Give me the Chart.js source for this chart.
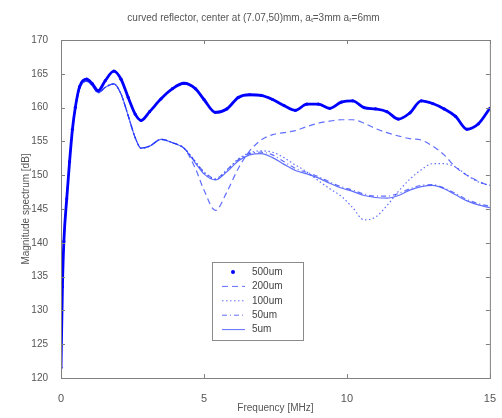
<!DOCTYPE html>
<html>
<head>
<meta charset="utf-8">
<script src="https://cdn.jsdelivr.net/npm/chart.js@4.4.1/dist/chart.umd.min.js"></script>
<style>
  html, body { margin: 0; padding: 0; background: #fff; }
  #wrap { width: 502px; height: 418px; }
</style>
</head>
<body>
<div id="wrap"><canvas id="spec" width="502" height="418"></canvas></div>
<script>
// frequency grid [MHz]
const freq = [0, 0.05, 0.1, 0.2, 0.3, 0.4, 0.5, 0.65, 0.9, 1.1, 1.3, 1.55, 1.85, 2.1, 2.35, 2.6, 2.8, 3.1, 3.5, 3.9,
  4.3, 4.7, 5.0, 5.4, 5.8, 6.2, 6.6, 7.0, 7.4, 7.8, 8.2, 8.6, 9.0, 9.4, 9.8, 10.2, 10.6, 11.0, 11.4, 11.8,
  12.2, 12.6, 13.0, 13.4, 13.8, 14.2, 14.6, 15.0];

// magnitude [dB]
const mag500 = [121.5, 133.5, 140.2, 146.5, 152, 156.8, 160, 163.1, 164.2, 163.5, 162.5, 164, 165.4, 164.2, 161.5, 159, 158.1, 159.4, 161.3, 162.8,
  163.6, 162.8, 161.2, 159.3, 159.8, 161.5, 161.9, 161.8, 161.2, 160.3, 159.6, 160.5, 160.5, 159.9, 160.8, 161.0, 160.0, 159.8, 159.4, 158.3,
  159.2, 161.0, 160.6, 159.8, 158.7, 156.8, 157.6, 159.9];
const mag200 = [121.5, 133.5, 140, 146.5, 152, 156.5, 159.8, 162.8, 163.9, 163.2, 162.2, 163, 163.5, 162, 158.8, 155.5, 154.0, 154.3, 155.3, 154.8,
  154.0, 151.0, 147.8, 144.8, 147.5, 151.0, 153.6, 155.2, 156.0, 156.3, 156.6, 157.2, 157.7, 158.0, 158.2, 158.2, 157.7, 156.9, 156.3, 155.8,
  155.4, 155.2, 154.3, 153.0, 151.2, 150.0, 149.1, 148.4];
const mag100 = [121.5, 133.5, 140, 146.5, 152, 156.5, 159.8, 162.8, 163.9, 163.2, 162.2, 163, 163.5, 162, 158.8, 155.5, 154.0, 154.3, 155.3, 154.8,
  154.0, 152.0, 150.4, 149.4, 150.7, 152.4, 153.3, 153.6, 153.4, 152.6, 151.5, 150.5, 149.2, 148.0, 146.9, 145.2, 143.4, 143.8, 145.5, 147.6,
  149.4, 150.8, 151.7, 151.7, 151.2, 150.0, 149.0, 148.5];
const mag50 = [121.5, 133.5, 140, 146.5, 152, 156.5, 159.8, 162.8, 163.9, 163.2, 162.2, 163, 163.5, 162, 158.8, 155.5, 154.0, 154.3, 155.3, 154.8,
  154.0, 152.0, 150.5, 149.5, 150.8, 152.3, 153.2, 153.4, 153.0, 152.0, 151.0, 150.4, 149.8, 149.0, 148.3, 147.8, 147.2, 146.9, 146.9, 147.3,
  148.0, 148.5, 148.6, 148.1, 147.3, 146.4, 145.8, 145.4];
const mag5 = [121.5, 133.5, 140, 146.5, 152, 156.5, 159.8, 162.8, 163.9, 163.2, 162.2, 163, 163.5, 162, 158.8, 155.5, 154.0, 154.3, 155.3, 154.8,
  154.0, 151.8, 150.2, 149.3, 150.5, 152.1, 153.0, 153.2, 152.6, 151.6, 150.7, 150.2, 149.6, 148.8, 148.1, 147.6, 147.0, 146.7, 146.6, 147.0,
  147.8, 148.3, 148.5, 148.0, 147.1, 146.2, 145.6, 145.2];

const seriesLabels = ['500um', '200um', '100um', '50um', '5um'];
const yTicks = [120, 125, 130, 135, 140, 145, 150, 155, 160, 165, 170];
const xTicks = [0, 5, 10, 15];

const blue = 'rgb(0,0,255)';
const thin = 'rgba(30,50,255,0.7)';
const font = "'Liberation Sans', Arial, sans-serif";

function pts(ys) {
  return freq.map((f, i) => ({x: f, y: ys[i]}));
}

// box round the axes with inward ticks, plus the legend inside the plot
const boxPlugin = {
  id: 'box',
  afterDraw(chart) {
    const ctx = chart.ctx;
    const a = chart.chartArea;
    const xs = chart.scales.x, ys = chart.scales.y;
    ctx.save();
    ctx.strokeStyle = '#808080';
    ctx.lineWidth = 1;
    ctx.strokeRect(a.left + 0.5, a.top + 0.5, a.right - a.left, a.bottom - a.top);
    ctx.beginPath();
    xTicks.forEach(v => {
      let px = Math.round(xs.getPixelForValue(v)) + 0.5;
      ctx.moveTo(px, a.bottom); ctx.lineTo(px, a.bottom - 4);
      ctx.moveTo(px, a.top); ctx.lineTo(px, a.top + 4);
    });
    yTicks.forEach(v => {
      let py = Math.round(ys.getPixelForValue(v)) + 0.5;
      ctx.moveTo(a.left, py); ctx.lineTo(a.left + 4, py);
      ctx.moveTo(a.right, py); ctx.lineTo(a.right - 4, py);
    });
    ctx.stroke();

    // legend
    const lx = 212, ly = 262, lw = 91, lh = 78;
    ctx.fillStyle = '#fff';
    ctx.fillRect(lx, ly, lw, lh);
    ctx.strokeStyle = '#8a8a8a';
    ctx.strokeRect(lx + 0.5, ly + 0.5, lw, lh);
    ctx.font = '10px ' + font;
    ctx.textBaseline = 'middle';
    chart.data.datasets.forEach((ds, i) => {
      let y = ly + 10 + i * 14.4;
      if (ds.pointRadius > 0) {
        ctx.fillStyle = ds.borderColor;
        ctx.beginPath();
        ctx.arc(lx + 21, y, 2, 0, Math.PI * 2);
        ctx.fill();
      } else {
        ctx.strokeStyle = ds.borderColor;
        ctx.lineWidth = 1;
        ctx.setLineDash(ds.borderDash || []);
        ctx.beginPath();
        ctx.moveTo(lx + 10, y); ctx.lineTo(lx + 33, y);
        ctx.stroke();
        ctx.setLineDash([]);
      }
      ctx.fillStyle = '#444';
      ctx.fillText(ds.label, lx + 40, y);
    });
    ctx.restore();
  }
};

const data = {
  datasets: [
    {label: seriesLabels[0], data: pts(mag500), borderColor: blue, backgroundColor: blue,
      borderWidth: 2.8, pointRadius: 1.6, pointBackgroundColor: blue, pointBorderWidth: 0},
    {label: seriesLabels[1], data: pts(mag200), borderColor: thin, borderWidth: 1.2,
      borderDash: [6, 4], pointRadius: 0},
    {label: seriesLabels[2], data: pts(mag100), borderColor: thin, borderWidth: 1.2,
      borderDash: [1.5, 2.5], pointRadius: 0},
    {label: seriesLabels[3], data: pts(mag50), borderColor: thin, borderWidth: 1.2,
      borderDash: [5, 3, 1, 3], pointRadius: 0},
    {label: seriesLabels[4], data: pts(mag5), borderColor: thin, borderWidth: 1.2, pointRadius: 0}
  ]
};

const config = {
  type: 'line',
  data: data,
  options: {
    responsive: false,
    animation: false,
    cubicInterpolationMode: 'monotone',
    layout: {padding: {left: 16, right: 11, top: 0, bottom: 0}},
    plugins: {
      legend: {display: false},
      tooltip: {enabled: false},
      title: {
        display: true,
        text: 'curved reflector, center at (7.07,50)mm, a\u209C=3mm a\u1D63=6mm',
        color: '#555',
        font: {family: font, size: 10, weight: 'normal', lineHeight: 1.3},
        padding: {top: 12, bottom: 15}
      }
    },
    scales: {
      x: {
        type: 'linear', min: 0, max: 15,
        afterFit: s => { s.height = 40; },
        afterBuildTicks: s => { s.ticks = xTicks.map(v => ({value: v})); },
        grid: {display: false},
        border: {display: false},
        ticks: {color: '#555', font: {family: font, size: 11}, padding: 6, maxRotation: 0},
        title: {display: true, text: 'Frequency [MHz]', color: '#555',
          font: {family: font, size: 10}, padding: 4}
      },
      y: {
        type: 'linear', min: 120, max: 170,
        afterFit: s => { s.width = 45; },
        afterBuildTicks: s => { s.ticks = yTicks.map(v => ({value: v})); },
        grid: {display: false},
        border: {display: false},
        ticks: {color: '#555', font: {family: font, size: 10}, padding: 5},
        title: {display: true, text: 'Magnitude spectrum [dB]', color: '#555',
          font: {family: font, size: 10}, padding: 4}
      }
    }
  },
  plugins: [boxPlugin]
};

let ctx = document.getElementById('spec').getContext('2d');
new Chart(ctx, config);
</script>
</body>
</html>
